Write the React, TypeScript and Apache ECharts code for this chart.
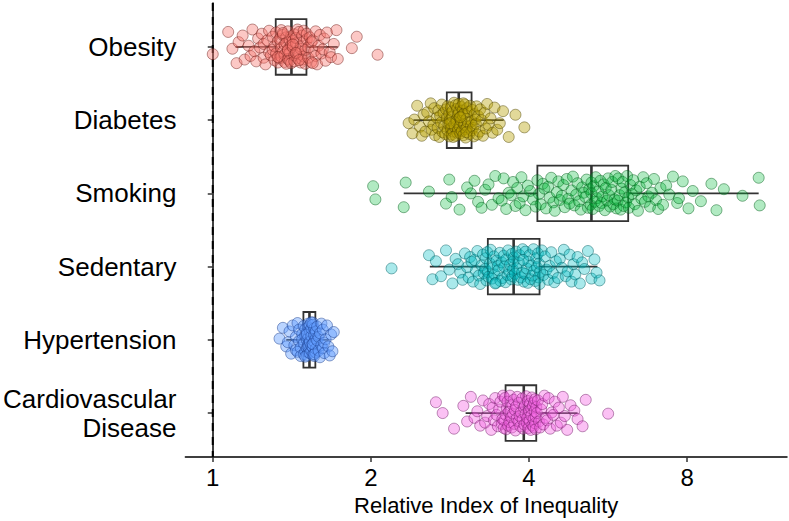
import React, { useEffect, useRef } from "react";
import * as echarts from "echarts";

const CATEGORIES = ["Obesity", "Diabetes", "Smoking", "Sedentary", "Hypertension", "Cardiovascular\nDisease"];
const X_TICKS = [1, 2, 4, 8];
const REFERENCE_RII = 1;

// Box statistics (raw RII values)
const WHISKER_LOW = [1.105, 2.41, 2.31, 2.59, 1.38, 3.03];
const Q1 = [1.318, 2.79, 4.15, 3.34, 1.488, 3.61];
const MEDIAN = [1.412, 2.94, 5.26, 3.74, 1.528, 3.91];
const Q3 = [1.508, 3.11, 6.18, 4.19, 1.568, 4.13];
const WHISKER_HIGH = [1.73, 3.58, 10.95, 5.4, 1.66, 4.95];

// Individual estimates
const OBESITY = [
  1.0, 1.07, 1.09, 1.11, 1.12, 1.14, 1.15, 1.17, 1.18, 1.19, 1.2, 1.21, 1.22, 1.23, 1.24, 1.25, 1.25, 1.26, 1.27, 1.28, 1.28, 1.29, 1.3, 1.3, 1.31, 1.31, 1.32,
  1.32, 1.33, 1.33, 1.34, 1.34, 1.35, 1.35, 1.35, 1.36, 1.36, 1.37, 1.37, 1.37, 1.38, 1.38, 1.38, 1.39, 1.39, 1.39, 1.4, 1.4, 1.4, 1.41, 1.41, 1.33, 1.36, 1.39,
  1.41, 1.42, 1.42, 1.43, 1.43, 1.43, 1.44, 1.44, 1.45, 1.45, 1.45, 1.46, 1.46, 1.47, 1.47, 1.47, 1.48, 1.48, 1.49, 1.49, 1.49, 1.5, 1.5, 1.51, 1.42, 1.44, 1.46,
  1.51, 1.52, 1.52, 1.53, 1.54, 1.54, 1.55, 1.56, 1.57, 1.57, 1.58, 1.59, 1.6, 1.61, 1.62, 1.63, 1.64, 1.65, 1.67, 1.68, 1.7, 1.72, 1.73, 1.84, 1.88, 2.06, 1.55,
];
const DIABETES = [
  2.36, 2.4, 2.42, 2.45, 2.48, 2.5, 2.52, 2.54, 2.56, 2.58, 2.6, 2.61, 2.63, 2.64, 2.65, 2.67, 2.68, 2.69, 2.7, 2.71, 2.72, 2.73, 2.74, 2.75, 2.76, 2.77, 2.78,
  2.79, 2.8, 2.8, 2.81, 2.82, 2.82, 2.83, 2.84, 2.84, 2.85, 2.86, 2.86, 2.87, 2.88, 2.88, 2.89, 2.9, 2.9, 2.91, 2.91, 2.92, 2.92, 2.93, 2.93, 2.94, 2.83, 2.87,
  2.94, 2.95, 2.95, 2.96, 2.97, 2.97, 2.98, 2.99, 2.99, 3.0, 3.01, 3.01, 3.02, 3.03, 3.03, 3.04, 3.05, 3.05, 3.06, 3.07, 3.08, 3.09, 3.1, 3.11, 2.96, 3.0, 3.04,
  3.11, 3.12, 3.13, 3.14, 3.15, 3.16, 3.17, 3.18, 3.19, 3.2, 3.22, 3.23, 3.25, 3.27, 3.29, 3.31, 3.33, 3.35, 3.38, 3.41, 3.44, 3.48, 3.52, 3.57, 3.66, 3.77, 3.92,
];
const SMOKING = [
  2.02, 2.04, 2.31, 2.33, 2.58, 2.78, 2.82, 2.85, 2.95, 3.05, 3.1, 3.15, 3.2, 3.25, 3.3, 3.35, 3.4, 3.45, 3.5, 3.55, 3.58, 3.62, 3.66, 3.7, 3.73, 3.77, 3.8, 3.84, 3.87, 3.9, 3.94, 3.98, 4.02, 4.07, 4.12,
  4.15, 4.18, 4.21, 4.25, 4.28, 4.31, 4.35, 4.38, 4.41, 4.45, 4.48, 4.52, 4.55, 4.58, 4.62, 4.65, 4.68, 4.72, 4.75, 4.78, 4.82, 4.85, 4.88, 4.92, 4.95, 4.98, 5.02, 5.05, 5.08, 5.12, 5.15, 5.18, 5.21, 5.24, 5.26,
  5.26, 5.29, 5.31, 5.34, 5.36, 5.39, 5.42, 5.44, 5.47, 5.5, 5.52, 5.55, 5.58, 5.6, 5.63, 5.66, 5.68, 5.71, 5.74, 5.76, 5.79, 5.82, 5.84, 5.87, 5.9, 5.92, 5.95, 5.98, 6.0, 6.03, 6.06, 6.09, 6.12, 6.15, 6.18,
  6.2, 6.24, 6.28, 6.32, 6.36, 6.4, 6.45, 6.5, 6.55, 6.6, 6.65, 6.7, 6.75, 6.8, 6.86, 6.92, 6.98, 7.05, 7.12, 7.2, 7.3, 7.4, 7.52, 7.66, 7.72, 7.85, 8.05, 8.2, 8.5, 8.9, 9.1, 9.4, 10.2, 10.95, 11.0,
];
const SEDENTARY = [
  2.19, 2.58, 2.62, 2.66, 2.72, 2.78, 2.82, 2.86, 2.9, 2.93, 2.96, 2.99, 3.02, 3.05, 3.07, 3.09, 3.11, 3.13, 3.15, 3.17, 3.19, 3.21, 3.23, 3.25, 3.27, 3.28, 3.3, 3.31, 3.32, 3.33,
  3.34, 3.35, 3.37, 3.38, 3.4, 3.41, 3.43, 3.44, 3.46, 3.47, 3.49, 3.5, 3.52, 3.53, 3.55, 3.56, 3.58, 3.59, 3.61, 3.62, 3.64, 3.65, 3.67, 3.68, 3.7, 3.71, 3.72, 3.73, 3.74, 3.45,
  3.74, 3.76, 3.78, 3.79, 3.81, 3.83, 3.84, 3.86, 3.88, 3.89, 3.91, 3.93, 3.94, 3.96, 3.98, 3.99, 4.01, 4.03, 4.04, 4.06, 4.08, 4.09, 4.11, 4.13, 4.14, 4.16, 4.17, 4.18, 4.19, 3.9,
  4.2, 4.23, 4.26, 4.29, 4.32, 4.35, 4.38, 4.41, 4.44, 4.47, 4.5, 4.54, 4.58, 4.62, 4.66, 4.7, 4.74, 4.78, 4.82, 4.86, 4.9, 4.95, 5.0, 5.05, 5.1, 5.18, 5.26, 5.33, 5.38, 5.45,
];
const HYPERTENSION = [
  1.34, 1.36, 1.38, 1.39, 1.4, 1.41, 1.42, 1.43, 1.44, 1.44, 1.45, 1.45, 1.46, 1.46, 1.47, 1.47, 1.48, 1.48, 1.49, 1.49,
  1.49, 1.5, 1.5, 1.5, 1.51, 1.51, 1.51, 1.51, 1.52, 1.52, 1.52, 1.52, 1.52, 1.53, 1.53, 1.53, 1.5, 1.51, 1.52, 1.53,
  1.53, 1.53, 1.54, 1.54, 1.54, 1.54, 1.55, 1.55, 1.55, 1.55, 1.56, 1.56, 1.56, 1.56, 1.57, 1.57, 1.57, 1.54, 1.55, 1.56,
  1.57, 1.58, 1.58, 1.59, 1.59, 1.6, 1.6, 1.61, 1.61, 1.62, 1.62, 1.63, 1.63, 1.64, 1.65, 1.66, 1.67, 1.68, 1.69, 1.7,
];
const CARDIOVASCULAR = [
  2.66, 2.74, 2.88, 3.0, 3.05, 3.1, 3.15, 3.19, 3.23, 3.27, 3.3, 3.33, 3.36, 3.39, 3.41, 3.43, 3.45, 3.47, 3.49, 3.51, 3.53, 3.55, 3.56, 3.57, 3.58, 3.59, 3.6,
  3.61, 3.62, 3.63, 3.64, 3.65, 3.66, 3.67, 3.68, 3.7, 3.71, 3.72, 3.73, 3.74, 3.75, 3.76, 3.77, 3.78, 3.79, 3.8, 3.82, 3.83, 3.84, 3.85, 3.86, 3.88, 3.89, 3.9,
  3.91, 3.92, 3.93, 3.94, 3.95, 3.96, 3.97, 3.98, 3.99, 4.0, 4.01, 4.02, 4.03, 4.04, 4.04, 4.05, 4.06, 4.07, 4.08, 4.08, 4.09, 4.1, 4.11, 4.11, 4.12, 4.12, 4.13,
  4.14, 4.16, 4.18, 4.2, 4.22, 4.24, 4.26, 4.28, 4.3, 4.33, 4.36, 4.39, 4.42, 4.45, 4.48, 4.52, 4.56, 4.6, 4.64, 4.68, 4.73, 4.8, 4.88, 4.95, 5.06, 5.13, 5.66,
];
const GROUP_VALUES = [OBESITY, DIABETES, SMOKING, SEDENTARY, HYPERTENSION, CARDIOVASCULAR];

// Vertical jitter offsets (category units)
const JITTER = [
  0.12, -0.25, 0.03, 0.27, -0.08, -0.19, 0.21, -0.02, 0.15, -0.29, 0.07, 0.24, -0.14, 0.01, -0.22, 0.18, -0.05, 0.29, -0.11, 0.09,
  -0.27, 0.14, -0.17, 0.05, 0.22, -0.01, -0.24, 0.11, 0.26, -0.09, 0.19, -0.13, 0.02, -0.28, 0.16, 0.08, -0.2, 0.25, -0.04, 0.13,
  -0.16, 0.28, -0.07, 0.04, -0.26, 0.2, -0.12, 0.1, 0.23, -0.18, -0.03, 0.17, -0.23, 0.06, 0.27, -0.1, 0.0, -0.21, 0.14, 0.24,
  -0.06, -0.15, 0.19, -0.29, 0.08, 0.12, -0.25, 0.26, -0.01, 0.03, -0.19, 0.21, -0.09, 0.16, -0.27, 0.05, 0.28, -0.13, -0.04, 0.1,
  0.22, -0.22, 0.01, 0.18, -0.16, -0.08, 0.25, -0.11, 0.07, -0.26, 0.15, 0.29, -0.02, -0.2, 0.11, 0.04, -0.14, 0.23, -0.24, 0.09,
  0.17, -0.05, -0.28, 0.2, 0.02, -0.17, 0.13, 0.27, -0.1, -0.01, 0.06, -0.23, 0.24, -0.07, 0.19, -0.18, 0.0, 0.26, -0.12, 0.14,
  -0.27, 0.08, -0.03, 0.21, -0.21, 0.16, 0.05, -0.15, 0.28, -0.09, 0.12, -0.25, 0.03, 0.22, -0.06, -0.19, 0.18, 0.1, -0.29, 0.25,
];

const FILLS = ["rgba(248,118,109,0.5)", "rgba(183,159,0,0.5)", "rgba(0,186,56,0.38)", "rgba(0,191,196,0.42)", "rgba(97,156,255,0.55)", "rgba(245,100,227,0.5)"];
const STROKES = ["rgba(110,30,25,0.6)", "rgba(80,68,0,0.6)", "rgba(0,95,25,0.6)", "rgba(0,95,98,0.6)", "rgba(25,60,140,0.6)", "rgba(110,25,100,0.6)"];
const FONT = "'Liberation Sans', Arial, Helvetica, sans-serif";
const JITTER_SCALE = 0.82;
const BOX_WIDTH = 0.76;
const Y_MIN = 0.4;
const Y_MAX = 6.6;

export default function App() {
  const ref = useRef<HTMLDivElement>(null);
  useEffect(() => {
    if (!ref.current) return;
    const chart = echarts.init(ref.current, null, { renderer: "svg" });
    const L = Math.log2;

    const boxData = CATEGORIES.map((_, i) => [i + 1, L(WHISKER_LOW[i]), L(Q1[i]), L(MEDIAN[i]), L(Q3[i]), L(WHISKER_HIGH[i])]);

    const scatterSeries = GROUP_VALUES.map((vals, g) => ({
      type: "scatter",
      name: CATEGORIES[g].replace("\n", " "),
      z: 3,
      symbol: "circle",
      symbolSize: 11,
      silent: true,
      itemStyle: { color: FILLS[g], borderColor: STROKES[g], borderWidth: 1 },
      data: vals.map((v, i) => [L(v), g + 1 + JITTER[(i + g * 23) % JITTER.length] * JITTER_SCALE]),
    }));

    const option: any = {
      animation: false,
      grid: { left: 183, right: 2, top: 3, bottom: 62, containLabel: false },
      xAxis: {
        type: "value",
        min: L(0.887),
        max: 3.632,
        splitLine: { show: false },
        axisLine: { show: true, lineStyle: { color: "#000", width: 1.5 } },
        axisTick: { show: true, length: 5, lineStyle: { color: "#333", width: 1.5 }, customValues: X_TICKS.map(L) },
        axisLabel: {
          customValues: X_TICKS.map(L),
          formatter: (v: number) => String(Math.round(Math.pow(2, v))),
          color: "#000",
          fontSize: 24,
          fontFamily: FONT,
          margin: 8,
        },
        name: "Relative Index of Inequality",
        nameLocation: "middle",
        nameGap: 37,
        nameTextStyle: { color: "#000", fontSize: 22, fontFamily: FONT },
      },
      yAxis: {
        type: "value",
        inverse: true,
        min: Y_MIN,
        max: Y_MAX,
        splitLine: { show: false },
        axisLine: { show: true, lineStyle: { color: "#000", width: 1.5 } },
        axisTick: { show: true, length: 5, lineStyle: { color: "#333", width: 1.5 }, customValues: [1, 2, 3, 4, 5, 6] },
        axisLabel: {
          customValues: [1, 2, 3, 4, 5, 6],
          formatter: (v: number) => CATEGORIES[Math.round(v) - 1] || "",
          color: "#000",
          fontSize: 26,
          lineHeight: 29,
          fontFamily: FONT,
          margin: 9,
          align: "right",
        },
      },
      series: [
        {
          type: "custom",
          z: 2,
          silent: true,
          encode: { x: 0 },
          data: [[L(REFERENCE_RII)]],
          renderItem: (params: any, api: any) => {
            const a = api.coord([api.value(0), Y_MIN]);
            const b = api.coord([api.value(0), Y_MAX]);
            return {
              type: "line",
              shape: { x1: a[0], y1: a[1], x2: b[0], y2: b[1] },
              style: { stroke: "#000000", lineWidth: 2, lineDash: [8, 6], fill: null },
            };
          },
        },
        {
          type: "custom",
          z: 1,
          silent: true,
          encode: { x: [1, 2, 3, 4, 5], y: 0 },
          data: boxData,
          renderItem: (params: any, api: any) => {
            const y = api.value(0);
            const wl = api.coord([api.value(1), y]);
            const q1 = api.coord([api.value(2), y]);
            const md = api.coord([api.value(3), y]);
            const q3 = api.coord([api.value(4), y]);
            const wh = api.coord([api.value(5), y]);
            const top = api.coord([api.value(2), y - BOX_WIDTH / 2])[1];
            const bot = api.coord([api.value(2), y + BOX_WIDTH / 2])[1];
            const stroke = { stroke: "#333333", lineWidth: 1.8, fill: null };
            return {
              type: "group",
              children: [
                { type: "line", shape: { x1: wl[0], y1: wl[1], x2: q1[0], y2: q1[1] }, style: stroke },
                { type: "line", shape: { x1: q3[0], y1: q3[1], x2: wh[0], y2: wh[1] }, style: stroke },
                {
                  type: "rect",
                  shape: { x: q1[0], y: top, width: q3[0] - q1[0], height: bot - top },
                  style: { fill: "#ffffff", stroke: "#333333", lineWidth: 1.8 },
                },
                { type: "line", shape: { x1: md[0], y1: top, x2: md[0], y2: bot }, style: { stroke: "#333333", lineWidth: 2.6 } },
              ],
            };
          },
        },
        ...scatterSeries,
      ],
    };
    chart.setOption(option);
    return () => chart.dispose();
  }, []);

  return <div ref={ref} style={{ position: "absolute", left: 0, top: 0, width: 789, height: 521, background: "#fff" }} />;
}
